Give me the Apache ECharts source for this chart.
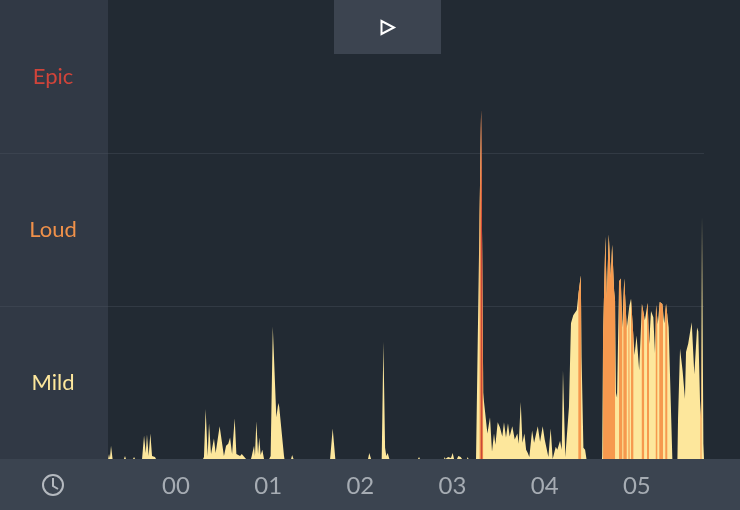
<!DOCTYPE html>
<html><head><meta charset="utf-8">
<style>html,body{margin:0;padding:0;background:#222a33}#c{width:740px;height:510px;filter:blur(0.45px)}</style>
<script src="https://cdn.jsdelivr.net/npm/echarts@6/dist/echarts.min.js"></script>
</head><body><div id="c"></div>
<script>
// each pair: [minutes after the hour 00 mark, loudness]
const burstEarly = [[-44.2,0],[-43.6,5],[-43.0,1],[-42.3,13],[-41.3,0],[-33.9,0],[-33.2,3],[-32.6,0],[-28.0,0],[-27.3,2],[-26.7,0]];
const burstA = [[-22.1,0],[-20.8,23],[-19.7,6],[-18.9,24],[-17.8,3],[-16.7,25],[-15.6,3],[-15,2],[-13.7,2],[-13,0],[-11.7,1],[-11.1,0]];
const burstB = [[17.6,0],[18.2,2],[19.3,49],[20.6,3],[21.5,35],[22.8,5],[23.6,6],[24.7,20],[25.8,6],[28.4,32],[31.2,3],[32.6,13],[34,15],[35.2,21],[36.5,5],[38.2,40],[39.3,5],[40.6,6],[41.7,3],[42.8,5],[43.9,3],[45.1,4],[45.6,0]];
const burstC = [[48.8,0],[49.3,3],[50.8,13],[51.4,3],[52.3,37],[53.4,5],[54.2,21],[55.1,4],[56.2,9],[57.3,0]];
const burstD = [[60.7,0],[61.6,3],[63,130],[65.3,41],[66.6,55],[67.2,51],[68.4,52],[70.3,3],[70.6,0]];
const burstQuiet = [[74.9,0],[75.6,4],[76.5,0],[79.7,0],[80.1,1],[80.4,0],[87.9,0],[88.3,1],[88.7,0],[100.3,0],[102,30],[103.7,0],[125,0],[125.8,6],[127,0]];
const burstE = [[133.9,0],[135,115],[136.1,11],[136.9,3],[137.8,6],[138.9,0],[157.5,0],[158.2,2],[158.8,0]];
const burstF = [[174.5,0],[174.9,2],[175.4,0],[176.4,0],[177.1,2],[177.7,1],[179,1],[180.1,6],[181,0],[182.9,0],[183.8,3],[185.3,2],[186.2,0],[189.4,0],[189.9,2],[190.4,0]];
const burstPeak = [[195.3,0],[198.6,342],[200,65],[200.5,56],[202.7,25],[204.4,41],[205.7,7],[207,25],[207.9,14],[209.4,36],[210.9,31],[211.9,30],[212.4,22],[213.5,36],[214.8,21],[216.1,35],[217.2,22],[218.9,32],[220.5,19],[222.2,25],[223.1,15],[224.4,56],[225.5,16],[226.8,25],[227.9,9],[229,6],[230,2],[231.8,28],[233.1,16],[235.5,32],[237,17],[238.7,32],[240,19],[240.9,20],[242.4,2],[243.9,30],[245.2,0]];
const burstRise = [[247.2,12],[248.2,9],[250,18],[251.1,9],[251.9,87],[253.4,2],[255.8,51],[257.1,133],[258.6,141],[260.9,146],[261.9,161],[263.5,180],[264,100],[265.2,11],[266.3,9],[267.2,0]];
const burstLoud = [[277.3,0],[277.4,3],[278,120],[279.5,218],[280.4,157],[281.7,220],[283,178],[283.9,210],[285.2,165],[285.8,155],[286.4,65],[287.1,60],[288.4,174],[289.5,177],[290.5,129],[291.8,177],[293.4,128],[294.7,128],[295.1,150],[296.2,157],[298.5,102],[299.8,121],[300.9,121],[301.5,87],[303.3,152],[305.2,136],[307,153],[308,113],[309.2,145],[310.7,139],[311.8,104],[312.5,151],[313.6,132],[314.9,154],[316.6,152],[317.8,133],[319,152],[320.7,129],[321.8,129],[323.1,0]];
const burstLast = [[326.4,0],[326.8,40],[328.1,108],[329.8,86],[331.3,59],[332,105],[333.4,113],[334.4,113],[335.7,134],[337.4,83],[339.2,129],[340,125],[341.1,57],[341.8,40],[342.4,238],[343.3,15],[343.7,0]];
const loudRanges = [[197.6,199.9],[261.9,263.7],[278,285.8],[288.4,290.5],[291.2,293.4],[294.5,295.3],[296.2,297.7],[303.2,304.7],[306.6,307.9],[312.3,313.3],[314.6,317],[318.5,319.8],[341.4,342.1]];
const epicRanges = [[198.4,199.4]];
const hourTicks = [0,60,120,180,240,300];
const hourLabels = ['00','01','02','03','04','05'];
const bands = ['Mild','Loud','Epic'];

const track = [].concat(burstEarly,burstA,burstB,burstC,burstD,burstQuiet,burstE,burstF,burstPeak,burstRise,burstLoud,burstLast);
function at(t){
  for(let i=1;i<track.length;i++){
    const p=track[i-1],q=track[i];
    if(t>=p[0]&&t<=q[0]) return p[1]+(q[1]-p[1])*(t-p[0])/(q[0]-p[0]);
  }
  return 0;
}
function slice(ranges){
  const out=[];
  ranges.forEach(r=>{
    out.push([r[0],0],[r[0],at(r[0])]);
    track.forEach(p=>{ if(p[0]>r[0]&&p[0]<r[1]) out.push(p); });
    out.push([r[1],at(r[1])],[r[1],0],[r[1],null]);
  });
  return out;
}
function area(name,data,color,z){
  return {name,type:'line',data,symbol:'none',silent:true,animation:false,z,
    lineStyle:{width:0},areaStyle:{color,opacity:1},itemStyle:{color}};
}
const bandColors={Mild:'#fde79c',Loud:'#f0914a',Epic:'#d0443a'};
const chart=echarts.init(document.getElementById('c'),null,{renderer:'canvas'});
chart.setOption({
  animation:false,
  backgroundColor:'#222a33',
  grid:{left:108,right:36,top:0,bottom:51,containLabel:false},
  xAxis:{type:'value',min:-44.27,max:343.7,
    axisLine:{show:false},axisTick:{show:false},splitLine:{show:false},
    axisLabel:{customValues:hourTicks,formatter:v=>hourLabels[hourTicks.indexOf(v)],
      color:'#a6acb3',fontFamily:'Lato',fontSize:24,margin:15,hideOverlap:false}},
  yAxis:[
    {type:'value',min:0,max:450,interval:150,axisLine:{show:false},axisTick:{show:false},axisLabel:{show:false},
     splitLine:{show:true,showMinLine:false,showMaxLine:false,lineStyle:{color:'#323a44',width:1}}},
    {type:'category',data:bands,position:'left',axisLine:{show:false},axisTick:{show:false},splitLine:{show:false},
     axisLabel:{margin:55,align:'center',fontFamily:'Lato',fontSize:22,lineHeight:26,padding:[4,0,0,0],
       color:v=>bandColors[v]}}
  ],
  series:[
    area('Mild',track,'#fde79c',2),
    area('Loud',slice(loudRanges),'#f6994e',3),
    area('Epic',slice(epicRanges),'#c9483a',4)
  ],
  graphic:[
    {type:'rect',z:-10,silent:true,shape:{x:0,y:0,width:108,height:459},style:{fill:'#313945'}},
    {type:'line',z:-9,silent:true,shape:{x1:0,y1:153.5,x2:108,y2:153.5},style:{stroke:'#3b434f',lineWidth:1}},
    {type:'line',z:-9,silent:true,shape:{x1:0,y1:306.5,x2:108,y2:306.5},style:{stroke:'#3b434f',lineWidth:1}},
    {type:'rect',z:-10,silent:true,shape:{x:0,y:459,width:740,height:51},style:{fill:'#3b4450'}},
    {type:'rect',z:10,silent:true,shape:{x:334,y:0,width:107,height:54},style:{fill:'#3c4450'}},
    {type:'polygon',z:11,silent:true,shape:{points:[[381.5,21],[394,27.5],[381.5,34]]},style:{fill:'none',stroke:'#ffffff',lineWidth:2}},
    {type:'circle',z:11,silent:true,shape:{cx:53,cy:485,r:10},style:{fill:'none',stroke:'#b4b9bf',lineWidth:2}},
    {type:'polyline',z:11,silent:true,shape:{points:[[53,478],[53,486],[58,489]]},style:{fill:'none',stroke:'#b4b9bf',lineWidth:2}}
  ]
});
</script></body></html>
